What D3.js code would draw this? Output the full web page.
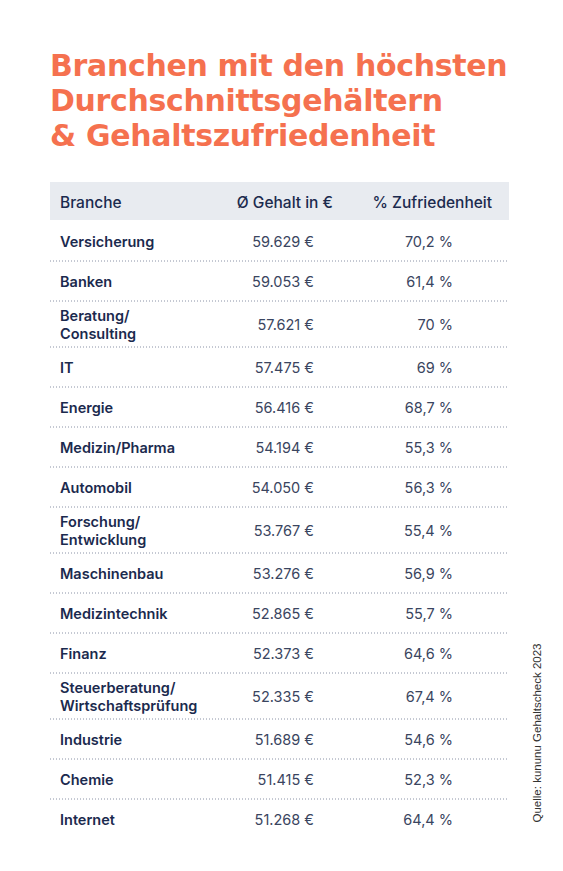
<!DOCTYPE html><html><head><meta charset="utf-8"><script src="https://cdn.jsdelivr.net/npm/d3@7"></script>
<style>body{margin:0;background:#fff}</style></head><body><svg id="c" width="563" height="871"></svg>
<script>
const titleLines=["Branchen mit den höchsten","Durchschnittsgehältern","& Gehaltszufriedenheit"];
const headers=["Branche","Ø Gehalt in €","% Zufriedenheit"];
const branchen=["Versicherung","Banken","Beratung/\nConsulting","IT","Energie","Medizin/Pharma","Automobil","Forschung/\nEntwicklung","Maschinenbau","Medizintechnik","Finanz","Steuerberatung/\nWirtschaftsprüfung","Industrie","Chemie","Internet"];
const gehalt=["59.629 €","59.053 €","57.621 €","57.475 €","56.416 €","54.194 €","54.050 €","53.767 €","53.276 €","52.865 €","52.373 €","52.335 €","51.689 €","51.415 €","51.268 €"];
const zufrieden=["70,2 %","61,4 %","70 %","69 %","68,7 %","55,3 %","56,3 %","55,4 %","56,9 %","55,7 %","64,6 %","67,4 %","54,6 %","52,3 %","64,4 %"];
const source="Quelle: kununu Gehaltscheck 2023";
const svg=d3.select("#c"),navy="#1b2a4e",font="Inter, 'Noto Sans', sans-serif";
const tt=svg.selectAll("text.t").data(titleLines).join("text").attr("x",50).attr("y",(d,i)=>76+i*35)
 .attr("font-family","'DejaVu Sans',sans-serif").attr("font-weight",700).attr("font-size",28).attr("letter-spacing",-0.3).attr("fill","#f5714f").text(d=>d);
const w0=tt.node().getComputedTextLength();
tt.attr("font-size",28*457/w0);
svg.append("rect").attr("x",50).attr("y",182).attr("width",459).attr("height",38).attr("fill","#e8ebf0");
const cx=[60,333,492],anc=["start","end","end"];
svg.selectAll("text.h").data(headers).join("text").attr("x",(d,i)=>cx[i]).attr("y",208).attr("text-anchor",(d,i)=>anc[i])
 .attr("font-family",font).attr("font-weight",500).attr("font-size",15.5).attr("fill",navy).text(d=>d);
const h=branchen.map(b=>b.split("\n").length===1?40:46);
const tops=[];let y=222;h.forEach(v=>{tops.push(y);y+=v;});
const rows=svg.selectAll("g.r").data(branchen).join("g").attr("transform",(d,i)=>`translate(0,${tops[i]})`);
rows.each(function(d,i){
 const g=d3.select(this),mid=h[i]/2,ls=d.split("\n");
 const t=g.append("text").attr("font-family",font).attr("font-weight",600).attr("font-size",14.5).attr("fill",navy);
 ls.forEach((l,j)=>t.append("tspan").attr("x",60).attr("y",mid+5+(j-(ls.length-1)/2)*18).text(l));
 g.append("text").attr("x",314).attr("y",mid+5).attr("text-anchor","end").attr("font-family",font).attr("font-size",14.5).attr("fill","#3a4560").text(gehalt[i]);
 g.append("text").attr("x",453).attr("y",mid+5).attr("text-anchor","end").attr("font-family",font).attr("font-size",14.5).attr("fill","#3a4560").text(zufrieden[i]);
 if(i<branchen.length-1) g.append("line").attr("x1",50).attr("x2",509).attr("y1",h[i]-1).attr("y2",h[i]-1).attr("stroke","#8a92a6").attr("stroke-width",1).attr("stroke-dasharray","1,2");
});
svg.append("text").attr("transform","translate(541,733) rotate(-90)").attr("text-anchor","middle")
 .attr("font-family","'Liberation Sans',Arial,sans-serif").attr("font-size",11.5).attr("fill","#333").text(source);
</script></body></html>
